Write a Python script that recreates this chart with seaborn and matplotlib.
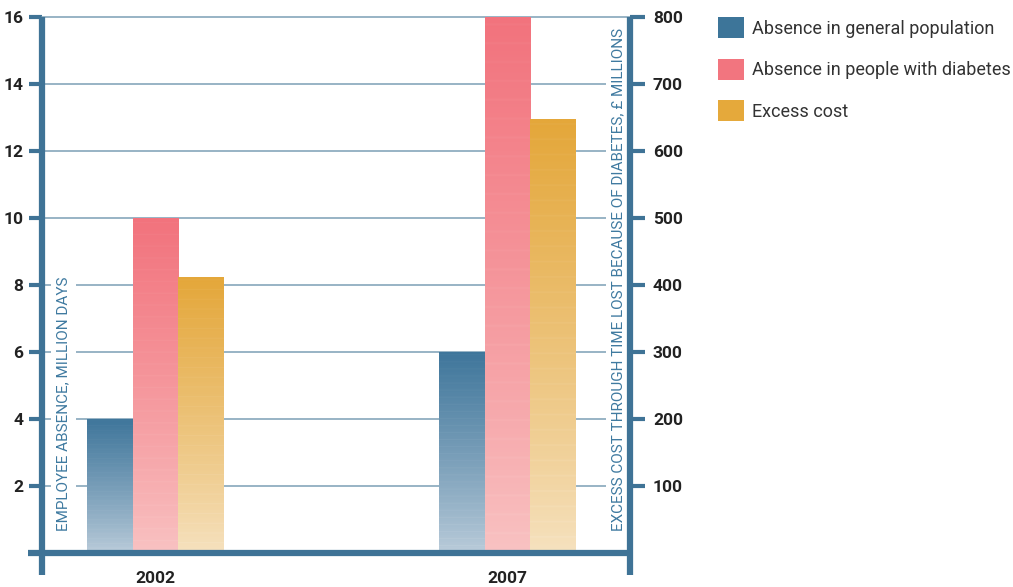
import numpy as np
import pandas as pd
import matplotlib
matplotlib.use("Agg")
import matplotlib.pyplot as plt
from matplotlib.colors import LinearSegmentedColormap
from matplotlib.lines import Line2D
from matplotlib.patches import Patch
import seaborn as sns

# ---- data ----
years = ["2002", "2007"]
series = ["Absence in general population", "Absence in people with diabetes", "Excess cost"]
general_pop = [4, 6]            # million days
with_diabetes = [10, 16]        # million days
excess_cost = [412, 648]        # £ millions (right axis)
left_ticks = [2, 4, 6, 8, 10, 12, 14, 16]
right_ticks = [100, 200, 300, 400, 500, 600, 700, 800]

top_colors = ["#3f769b", "#f2737d", "#e4a73a"]
bottom_colors = ["#bccddb", "#f9c3c3", "#f6e2c0"]
legend_colors = ["#3d7599", "#f2757f", "#e5a93b"]
spine_c = "#3f7396"
grid_c = "#86a7bb"
text_c = "#222222"

sns.set_theme(style="white")
FONT = ["Roboto", "DejaVu Sans"]
plt.rcParams["font.family"] = FONT

df = pd.DataFrame({
    "year": years * 3,
    "series": [series[0]] * 2 + [series[1]] * 2 + [series[2]] * 2,
    "value": general_pop + with_diabetes + [v / 50 for v in excess_cost],
})

W, H = 1013, 587
fig = plt.figure(figsize=(W / 100, H / 100), dpi=100)
ax = fig.add_axes([42 / W, (H - 553) / H, (630 - 42) / W, (553 - 17) / H])

sns.barplot(data=df, x="year", y="value", hue="series", hue_order=series,
            palette=legend_colors, width=0.39, ax=ax, legend=False,
            err_kws={"linewidth": 0}, saturation=1)

ax.set_xlim(-0.3224, 1.348)
ax.set_ylim(0, 16)

# gradient fill of bars
grad = np.linspace(0, 1, 256).reshape(-1, 1) ** 0.85
stripes = (np.arange(256) % 9 == 0).reshape(-1, 1) * 0.05
for i, p in enumerate(ax.patches):
    s = i // 2
    cmap = LinearSegmentedColormap.from_list(f"g{i}", [bottom_colors[s], top_colors[s]])
    x0, y0, w, h = p.get_x(), p.get_y(), p.get_width(), p.get_height()
    img = np.clip(grad - stripes, 0, 1)
    im = ax.imshow(img, extent=[x0, x0 + w, y0, y0 + h], origin="lower",
                   cmap=cmap, vmin=0, vmax=1, aspect="auto", zorder=3)
    p.set_facecolor("none")
    p.set_edgecolor("none")
    im.set_clip_path(p)

# gridlines
for t in left_ticks:
    ax.axhline(t, color=grid_c, lw=1.2, zorder=1, clip_on=False)

# spines drawn manually
for sp in ax.spines.values():
    sp.set_visible(False)
ah = 553 - 17
aw = 630 - 42
ax.add_line(Line2D([0, 0], [-22 / ah, 1], transform=ax.transAxes, color=spine_c, lw=4.5,
                   clip_on=False, zorder=5, solid_capstyle="butt"))
ax.add_line(Line2D([1, 1], [-22 / ah, 1], transform=ax.transAxes, color=spine_c, lw=4.5,
                   clip_on=False, zorder=5, solid_capstyle="butt"))
ax.add_line(Line2D([-14 / aw, 1 + 2 / aw], [0, 0], transform=ax.transAxes, color=spine_c, lw=4.5,
                   clip_on=False, zorder=5, solid_capstyle="butt"))

# left ticks
ax.set_yticks(left_ticks)
ax.set_yticklabels([str(t) for t in left_ticks], fontsize=12.5, fontweight="bold",
                   color=text_c, family=FONT)
ax.tick_params(axis="y", which="both", direction="out", length=9.5, width=3,
               color=spine_c, pad=4, left=True)
ax.set_ylabel("")

# right axis
ax2 = ax.twinx()
ax2.set_ylim(0, 800)
for sp in ax2.spines.values():
    sp.set_visible(False)
ax2.set_yticks(right_ticks)
ax2.set_yticklabels([str(t) for t in right_ticks], fontsize=12.5, fontweight="bold",
                    color=text_c, family=FONT)
ax2.tick_params(axis="y", direction="out", length=10.5, width=3, color=spine_c, pad=6, right=True)
ax2.grid(False)

# x ticks
ax.set_xticks([0, 1])
ax.set_xticklabels(years, fontsize=12.5, fontweight="bold", color=text_c, family=FONT)
ax.tick_params(axis="x", length=0, pad=13)
ax.set_xlabel("")

# axis titles as rotated text with white background
ax.text(21 / aw, 22 / ah, "EMPLOYEE ABSENCE, MILLION DAYS", transform=ax.transAxes,
        rotation=90, ha="center", va="bottom", fontsize=11, color="#3f7aa0", family=FONT,
        bbox=dict(facecolor="white", edgecolor="none", pad=4), zorder=4)
ax.text((618 - 42) / aw, 22 / ah, "EXCESS COST THROUGH TIME LOST BECAUSE OF DIABETES, £ MILLIONS",
        transform=ax.transAxes, rotation=90, ha="center", va="bottom", fontsize=11,
        color="#3f7aa0", family=FONT,
        bbox=dict(facecolor="white", edgecolor="none", pad=4), zorder=4)

# legend
handles = [Patch(facecolor=c, edgecolor="none") for c in legend_colors]
leg = fig.legend(handles, series, loc="upper left", bbox_to_anchor=(711 / W, 1 - 10 / H),
                 frameon=False, prop={"family": FONT, "size": 13}, labelcolor="#333333",
                 handlelength=1.4, handleheight=1.4, handletextpad=0.45, labelspacing=1.15,
                 borderaxespad=0)

fig.savefig("out.png", dpi=100)
